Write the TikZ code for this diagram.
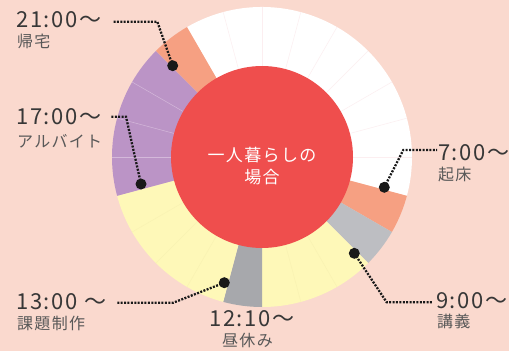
\documentclass[tikz,border=0pt]{standalone}
\usepackage{fontspec}
\setmainfont{Noto Sans CJK JP}
\newfontfamily\numfont[LetterSpace=8]{Noto Sans CJK JP}
\newfontfamily\labfont[LetterSpace=8]{Noto Sans CJK JP}
\usetikzlibrary{calc}
\definecolor{bgc}{RGB}{250,217,206}
\definecolor{redc}{RGB}{239,78,77}
\definecolor{salmonc}{RGB}{246,160,130}
\definecolor{lgrayc}{RGB}{189,190,194}
\definecolor{yellowc}{RGB}{254,248,184}
\definecolor{dgrayc}{RGB}{167,168,172}
\definecolor{purplec}{RGB}{187,148,198}
\definecolor{whitelc}{RGB}{252,238,240}
\definecolor{yellowlc}{RGB}{249,242,178}
\definecolor{purplelc}{RGB}{212,184,218}
\definecolor{numc}{RGB}{55,55,55}
\definecolor{labc}{RGB}{88,88,88}
\newcommand\dsector[3]{\fill[#3] (C) -- ($(C)+({15*(#1)-90}:150)$) arc[start angle={15*(#1)-90}, end angle={15*(#2)-90}, radius=150] -- cycle;}
\tikzset{
  hline/.style={line width=0.5pt},
  leader/.style={line width=2.3pt, dash pattern=on 2pt off 1.4pt, black!90},
  dotn/.style={circle, fill=black!90, inner sep=0pt, minimum size=11pt},
  numl/.style={anchor=base west, inner sep=0pt, text=numc, font=\numfont\fontsize{22}{24}\selectfont},
  subl/.style={anchor=west, inner sep=0pt, text=labc, font=\labfont\fontsize{16}{18}\selectfont},
  centl/.style={align=center, inner sep=0pt, text=white, font=\labfont\fontsize{17}{22.5}\selectfont}
}
\begin{document}
\begin{tikzpicture}[x=1pt,y=-1pt]
\fill[bgc] (0,0) rectangle (509,351);
\useasboundingbox (0,0) rectangle (509,351);
\coordinate (C) at (262,157);
% ring sectors (hours, 0:00 at top, clockwise)
\dsector{22}{31}{white}
\dsector{7}{8}{salmonc}
\dsector{8}{9}{lgrayc}
\dsector{9}{12}{yellowc}
\dsector{12}{13}{dgrayc}
\dsector{13}{17}{yellowc}
\dsector{17}{21}{purplec}
\dsector{21}{22}{salmonc}
% hour lines
\foreach \h in {23,24,25,26,27,28,29,30}
  \draw[hline, whitelc] (C) -- ($(C)+({15*\h-90}:150)$);
\foreach \h in {10,11,14,15,16}
  \draw[hline, yellowlc] (C) -- ($(C)+({15*\h-90}:150)$);
\foreach \h in {18,19,20}
  \draw[hline, purplelc] (C) -- ($(C)+({15*\h-90}:150)$);
% centre
\fill[redc] (C) circle[radius=91];
\node[centl] (ctext) at (262,166) {一人暮らしの\\場合};
% markers
\node[dotn] (d21) at (172.7,65.7) {};
\node[dotn] (d17) at (141,184) {};
\node[dotn] (d13) at (224.3,282.7) {};
\node[dotn] (d9) at (354.3,253.3) {};
\node[dotn] (d7) at (384.3,187.3) {};
% leader bends and ends
\coordinate (k21) at (157.3,21.7);
\coordinate (e21) at (113.3,21.7);
\coordinate (k17) at (126,116.7);
\coordinate (e17) at (110,116.7);
\coordinate (k13) at (173.3,302.7);
\coordinate (e13) at (116,302.7);
\coordinate (k9) at (386.7,302.3);
\coordinate (e9) at (432,302.3);
\coordinate (k7) at (403.3,150);
\coordinate (e7) at (437,150);
\draw[leader] (d21.center) -- (k21) -- (e21);
\draw[leader] (d17.center) -- (k17) -- (e17);
\draw[leader] (d13.center) -- (k13) -- (e13);
\draw[leader] (d9.center) -- (k9) -- (e9);
\draw[leader] (d7.center) -- (k7) -- (e7);
% labels
\node[numl] (t21) at (16,27.3) {21\hspace{1.5pt}:\hspace{1.5pt}00～};
\node[subl] (s21) at (17,41.5) {帰宅};
\node[numl] (t17) at (16,124) {17\hspace{1.5pt}:\hspace{1.5pt}00～};
\node[subl] (s17) at (17,141.5) {アルバイト};
\node[numl] (t13) at (16,309.3) {13\hspace{1.5pt}:\hspace{1.5pt}00 ～};
\node[subl] (s13) at (17,323.5) {課題制作};
\node[numl] (t12) at (209,326.7) {12\hspace{1.5pt}:\hspace{1.5pt}10～};
\node[subl] (s12) at (222,340.5) {昼休み};
\node[numl] (t9) at (436,308.3) {9\hspace{1.5pt}:\hspace{1.5pt}00～};
\node[subl] (s9) at (437,321.5) {講義};
\node[numl] (t7) at (438,160) {7\hspace{1.5pt}:\hspace{1.5pt}00～};
\node[subl] (s7) at (438,174.5) {起床};
\end{tikzpicture}
\end{document}
